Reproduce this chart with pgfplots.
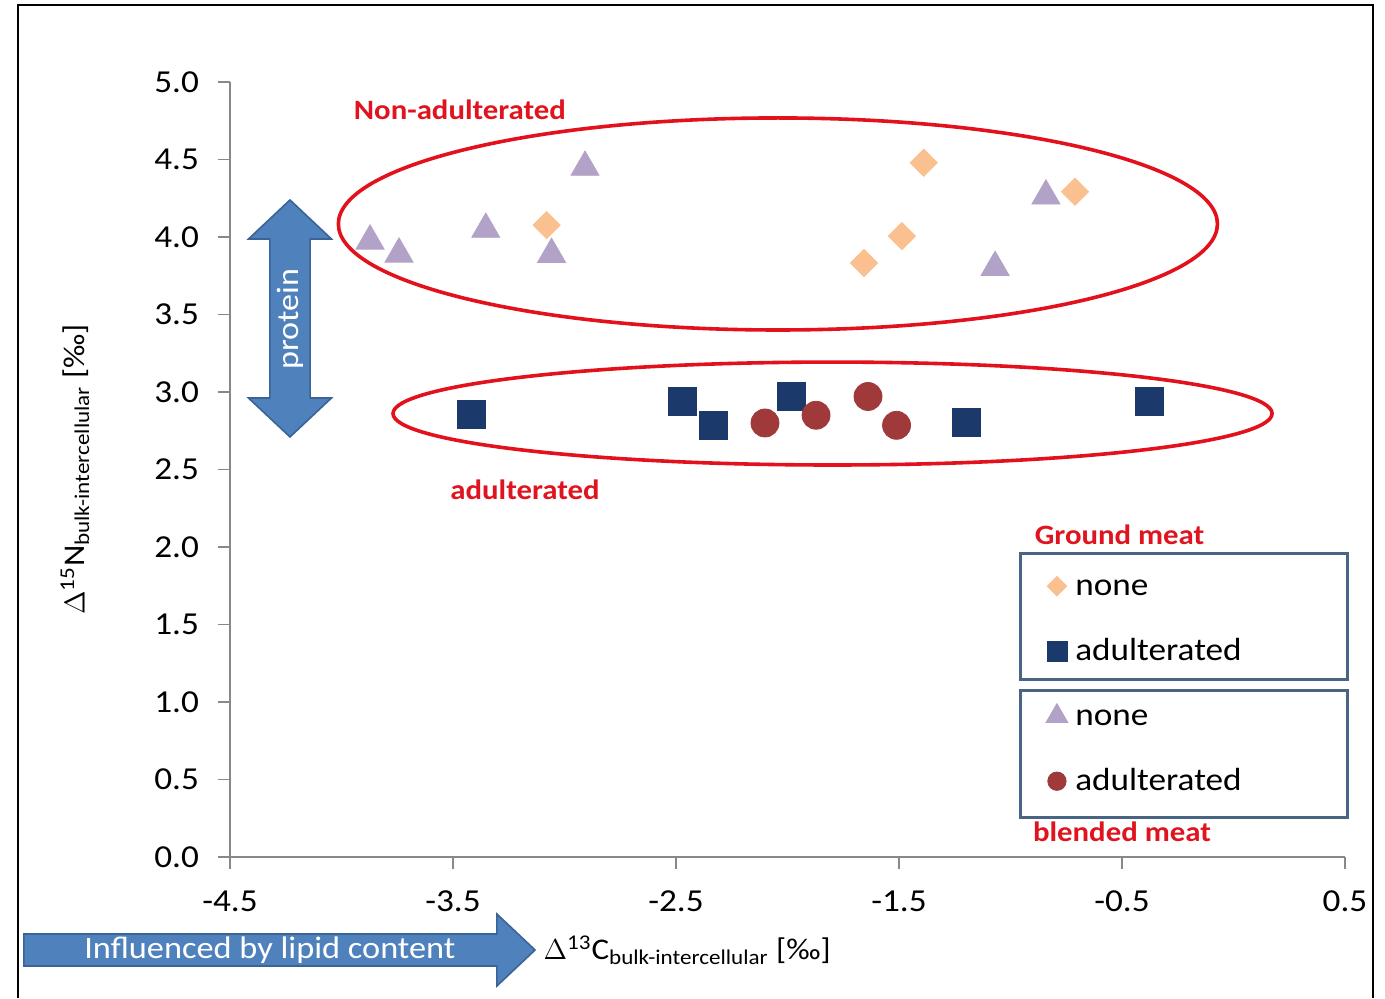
\documentclass[border=0pt]{standalone}
\usepackage{pgfplots}
\pgfplotsset{compat=1.18}
\usepackage{fontspec}
\setmainfont{Carlito}[FakeStretch=1.1]

\definecolor{diam}{HTML}{FAC08F}
\definecolor{tri}{HTML}{B3A2C7}
\definecolor{sq}{HTML}{1B3A6B}
\definecolor{circ}{HTML}{A0393A}
\definecolor{ell}{HTML}{E2111B}
\definecolor{arrowfill}{HTML}{4F81BD}
\definecolor{arrowdraw}{HTML}{3A6496}
\definecolor{legbox}{HTML}{4A6584}
\definecolor{redlab}{HTML}{E0141E}
\definecolor{axisgray}{HTML}{888888}

\begin{document}
\begin{tikzpicture}
\begin{axis}[
  scale only axis, width=557.5pt, height=387.5pt,
  xmin=-4.5, xmax=0.5, ymin=0, ymax=5,
  axis x line*=bottom, axis y line*=left,
  axis line style={draw=axisgray, line width=0.8pt},
  tick style={draw=axisgray, line width=0.8pt},
  major tick length=6pt, tick align=outside,
  xtick={-4.5,-3.5,-2.5,-1.5,-0.5,0.5},
  xticklabels={-4.5,-3.5,-2.5,-1.5,-0.5,0.5},
  ytick={0,0.5,1,1.5,2,2.5,3,3.5,4,4.5,5},
  yticklabels={0.0,0.5,1.0,1.5,2.0,2.5,3.0,3.5,4.0,4.5,5.0},
  ticklabel style={font=\fontsize{16}{19}\selectfont},
  yticklabel style={xshift=-6pt},
  xticklabel style={yshift=-7.5pt},
  clip=false,
  xlabel={$\Delta$\textsuperscript{13}C\textsubscript{bulk-intercellular} [‰]},
  ylabel={$\Delta$\textsuperscript{15}N\textsubscript{bulk-intercellular} [‰]},
  label style={font=\fontsize{15}{17}\selectfont},
  xlabel style={at={(axis description cs:0.41,-0.12)}, anchor=center},
  ylabel style={at={(axis description cs:-0.139,0.5)}, anchor=center},
  legend image code/.code={\path (0pt,-1pt) (14pt,1pt); \draw[#1] plot coordinates {(7pt,0pt)};},
  legend style={at={(axis cs:-0.885,1.898)}, anchor=north west, draw=none, fill=none,
    font=\fontsize{16}{19}\selectfont, row sep=13.5pt, column sep=0pt,
    nodes={text height=12pt, text depth=3pt, inner sep=2pt}},
  legend cell align=left,
]
% ellipses
\draw[ell, line width=1.8pt] (axis cs:-2.043,4.084) ellipse [x radius=1.971, y radius=0.684];
\draw[ell, line width=1.8pt] (axis cs:-1.798,2.861) ellipse [x radius=1.971, y radius=0.332];

% ground meat, none
\addplot[forget plot, only marks, mark=square*, mark size=4.8pt, color=diam, mark options={rotate=45}] coordinates {
(-3.080,4.077) (-1.657,3.832) (-1.487,4.006) (-1.389,4.479) (-0.711,4.292)};
% blended meat, none
\addplot[forget plot, only marks, mark=triangle*, mark size=8.1pt, color=tri] coordinates {
(-3.872,3.974) (-3.742,3.890) (-3.353,4.050) (-3.058,3.888) (-2.908,4.450) (-1.069,3.804) (-0.841,4.265)};
% ground meat, adulterated
\addplot[forget plot, only marks, mark=square*, mark size=7pt, color=sq] coordinates {
(-3.419,2.855) (-2.471,2.942) (-2.334,2.785) (-1.982,2.972) (-1.200,2.801) (-0.378,2.940)};
% blended meat, adulterated
\addplot[forget plot, only marks, mark=*, mark size=7pt, color=circ] coordinates {
(-2.101,2.800) (-1.872,2.850) (-1.639,2.971) (-1.511,2.785)};

\addlegendimage{mark=square*, mark size=3.45pt, color=diam, mark options={rotate=45}}
\addlegendentry{none}
\addlegendimage{mark=square*, mark size=5pt, color=sq}
\addlegendentry{adulterated}
\addlegendimage{mark=triangle*, mark size=6.3pt, color=tri}
\addlegendentry{none}
\addlegendimage{mark=*, mark size=4.6pt, color=circ}
\addlegendentry{adulterated}

% legend boxes
\draw[legbox, line width=1.5pt] (axis cs:-0.953,1.961) rectangle (axis cs:0.509,1.142);
\draw[legbox, line width=1.5pt] (axis cs:-0.953,1.077) rectangle (axis cs:0.509,0.258);

% red labels
\node[text=redlab, font=\bfseries\fontsize{14}{16}\selectfont] at (axis cs:-3.469,4.819) {Non-adulterated};
\node[text=redlab, font=\bfseries\fontsize{14}{16}\selectfont] at (axis cs:-3.177,2.368) {adulterated};
\node[text=redlab, font=\bfseries\fontsize{14}{16}\selectfont] at (axis cs:-0.511,2.077) {Ground meat};
\node[text=redlab, font=\bfseries\fontsize{14}{16}\selectfont] at (axis cs:-0.500,0.161) {blended meat};

% vertical double arrow (protein)
\filldraw[fill=arrowfill, draw=arrowdraw, line width=0.8pt]
 (axis cs:-4.231,4.239) -- (axis cs:-4.045,3.987) -- (axis cs:-4.141,3.987) -- (axis cs:-4.141,2.961)
 -- (axis cs:-4.045,2.961) -- (axis cs:-4.231,2.710) -- (axis cs:-4.417,2.961) -- (axis cs:-4.321,2.961)
 -- (axis cs:-4.321,3.987) -- (axis cs:-4.417,3.987) -- cycle;
\node[rotate=90, text=white, font=\fontsize{15.5}{18}\selectfont] at (axis cs:-4.231,3.471) {protein};

% horizontal arrow (lipid)
\filldraw[fill=arrowfill, draw=arrowdraw, line width=0.8pt]
 (axis cs:-5.424,-0.497) -- (axis cs:-3.303,-0.497) -- (axis cs:-3.303,-0.368) -- (axis cs:-3.132,-0.600)
 -- (axis cs:-3.303,-0.832) -- (axis cs:-3.303,-0.703) -- (axis cs:-5.424,-0.703) -- cycle;
\node[text=white, font=\fontsize{15.6}{18}\selectfont] at (axis cs:-4.321,-0.600) {Influenced by lipid content};

% outer frame
\draw[black, line width=1pt] (axis cs:-5.451,-0.9097) -- (axis cs:-5.451,5.497) -- (axis cs:0.626,5.497) -- (axis cs:0.626,-0.9097);
% bounding box
\path (axis cs:-5.5314,5.529) rectangle (axis cs:0.6794,-0.9097);
\end{axis}
\end{tikzpicture}
\end{document}
